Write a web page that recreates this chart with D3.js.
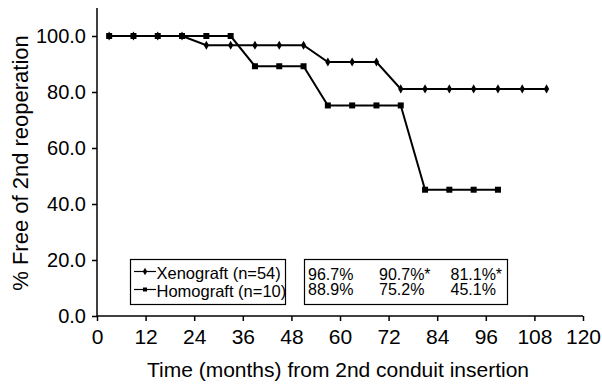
<!DOCTYPE html>
<html><head><meta charset="utf-8">
<script src="https://cdn.jsdelivr.net/npm/d3@7"></script>
<style>body{margin:0;background:#fff}svg{display:block;font-family:"Liberation Sans",Arial,sans-serif}</style>
</head><body><svg id="c" width="602" height="384"></svg>
<script>
const xenoMonths = [3,9,15,21,27,33,39,45,51,57,63,69,75,81,87,93,99,105,111];
const xenoValues = [100,100,100,100,96.7,96.7,96.7,96.7,96.7,90.7,90.7,90.7,81.1,81.1,81.1,81.1,81.1,81.1,81.1];
const homoMonths = [3,9,15,21,27,33,39,45,51,57,63,69,75,81,87,93,99];
const homoValues = [100,100,100,100,100,100,89.2,89.2,89.2,75.2,75.2,75.2,75.2,45.1,45.1,45.1,45.1];
const xTicks = [0,12,24,36,48,60,72,84,96,108,120];
const yTicks = [0,20,40,60,80,100];
const legendLabels = ["Xenograft (n=54)","Homograft (n=10)"];
const statsRows = [["96.7%","90.7%*","81.1%*"],["88.9%","75.2%","45.1%"]];

const FF = "Liberation Sans, Arial, sans-serif";
const svg = d3.select("#c");
const x = d3.scaleLinear().domain([0,120]).range([97,583]);
const y = d3.scaleLinear().domain([0,110]).range([316,8]);

// axes
const xa = svg.append("g").attr("transform","translate(0,316)")
  .call(d3.axisBottom(x).tickValues(xTicks).tickSizeInner(5).tickSizeOuter(0));
const ya = svg.append("g").attr("transform","translate(97,0)")
  .call(d3.axisLeft(y).tickValues(yTicks).tickFormat(d3.format(".1f")).tickSizeInner(5).tickSizeOuter(0).tickPadding(6));
[xa,ya].forEach(a=>{
  a.attr("font-family",FF);
  a.selectAll("path,line").attr("stroke","#000").attr("stroke-width",1.5);
  a.selectAll("text").attr("fill","#000");
});
xa.selectAll("text").style("font-size","21px").attr("y",28).attr("dy",0);
ya.selectAll("text").style("font-size","20px").attr("dy","0.34em");
ya.select(".domain").attr("d","M0,8V316");
xa.select(".domain").attr("d","M97,0H583");

svg.append("text").attr("x",338).attr("y",377).attr("text-anchor","middle")
  .style("font-size","21px").text("Time (months) from 2nd conduit insertion");
svg.append("text").attr("transform","translate(28,163) rotate(-90)").attr("text-anchor","middle")
  .style("font-size","22px").text("% Free of 2nd reoperation");

const line = d3.line().x(d=>x(d[0])).y(d=>y(d[1]));
const xeno = xenoMonths.map((m,i)=>[m,xenoValues[i]]);
const homo = homoMonths.map((m,i)=>[m,homoValues[i]]);

svg.append("path").datum(homo).attr("d",line).attr("fill","none").attr("stroke","#000").attr("stroke-width",2);
svg.append("path").datum(xeno).attr("d",line).attr("fill","none").attr("stroke","#000").attr("stroke-width",2);
svg.selectAll(".hs").data(homo).enter().append("rect")
  .attr("x",d=>x(d[0])-3).attr("y",d=>y(d[1])-3).attr("width",6).attr("height",6).attr("fill","#000");
const diamond = d3.symbol().type(d3.symbolDiamond).size(24);
svg.selectAll(".xs").data(xeno).enter().append("path")
  .attr("transform",d=>`translate(${x(d[0])},${y(d[1])})`).attr("d",diamond).attr("fill","#000");

// legend
svg.append("rect").attr("x",130.5).attr("y",259.5).attr("width",155).attr("height",45)
  .attr("fill","#fff").attr("stroke","#000").attr("stroke-width",1.2);
const legendDiamond = d3.symbol().type(d3.symbolDiamond).size(16);
const lineYs = [271.5, 289.5];
legendLabels.forEach((t,i)=>{
  const ly = lineYs[i];
  svg.append("line").attr("x1",134).attr("x2",156).attr("y1",ly).attr("y2",ly).attr("stroke","#000").attr("stroke-width",1.2);
  if(i===0) svg.append("path").attr("transform",`translate(145,${ly})`).attr("d",legendDiamond).attr("fill","#000");
  else svg.append("rect").attr("x",143).attr("y",ly-2).attr("width",4).attr("height",4).attr("fill","#000");
});
const lt = svg.append("text").style("font-size","16.5px");
legendLabels.forEach((t,i)=>{
  lt.append("tspan").attr("x",156.5).attr("y",279+i*18).text(t);
});
// stats box
svg.append("rect").attr("x",304.5).attr("y",259.5).attr("width",203).attr("height",45)
  .attr("fill","#fff").attr("stroke","#000").attr("stroke-width",1.2);
const colX = [308,379,450.5];
colX.forEach((cx,j)=>{
  const t = svg.append("text").style("font-size","16px");
  statsRows.forEach((r,i)=>{
    t.append("tspan").attr("x",cx).attr("y",279.5+i*15.5).text(r[j]);
  });
});
</script></body></html>
